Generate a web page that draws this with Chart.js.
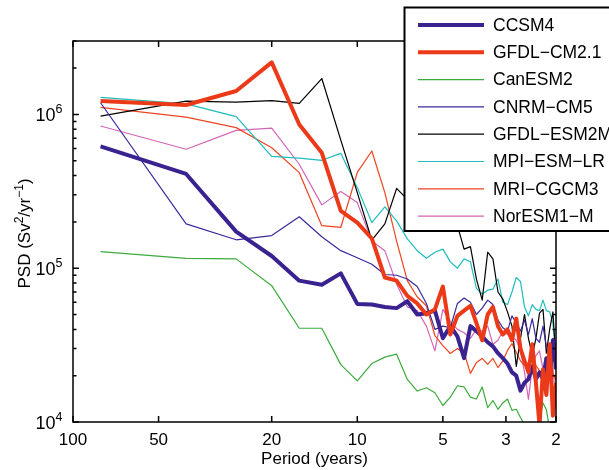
<!DOCTYPE html>
<html>
<head>
<meta charset="utf-8">
<script src="https://cdn.jsdelivr.net/npm/chart.js@4.4.1/dist/chart.umd.min.js"></script>
<style>
  html, body { margin: 0; padding: 0; background: #fff; }
  #wrap { width: 609px; height: 470px; }
</style>
</head>
<body>
<div id="wrap"><canvas id="psd" width="609" height="470"></canvas></div>
<script>
// Spectral periods (years), 80-yr record -> 80/k
const periods = [80, 40, 26.67, 20, 16, 13.33, 11.43, 10, 8.889, 8,
  7.273, 6.667, 6.154, 5.714, 5.333, 5, 4.706, 4.444, 4.211, 4,
  3.810, 3.636, 3.478, 3.333, 3.2, 3.077, 2.963, 2.857, 2.759, 2.667,
  2.581, 2.5, 2.424, 2.353, 2.286, 2.222, 2.162, 2.105, 2.051, 2];

const ccsm4 = [6.2e5, 4.1e5, 1.73e5, 1.2e5, 8.3e4, 7.8e4, 9.25e4, 5.86e4, 5.8e4, 5.6e4,
  5.5e4, 6.1e4, 5.0e4, 5.1e4, 5.3e4, 3.5e4, 4.2e4, 3.6e4, 2.6e4, 4.2e4,
  3.9e4, 3.6e4, 3.3e4, 3.1e4, 2.8e4, 2.6e4, 2.4e4, 2.1e4, 2.0e4, 1.6e4,
  1.8e4, 1.9e4, 2.3e4, 1.9e4, 2.1e4, 1.9e4, 2.6e4, 2.0e4, 3.4e4, 2.2e4];
const gfdlCm21 = [1.22e6, 1.15e6, 1.42e6, 2.18e6, 8.6e5, 5.63e5, 2.36e5, 1.98e5, 1.56e5, 8.7e4,
  8.3e4, 6.6e4, 5.9e4, 5.0e4, 5.4e4, 7.6e4, 3.7e4, 4.9e4, 5.3e4, 5.7e4,
  4.4e4, 3.4e4, 5.0e4, 5.6e4, 4.2e4, 3.7e4, 4.0e4, 3.4e4, 4.7e4, 3.0e4,
  2.5e4, 2.1e4, 3.2e4, 1.8e4, 9.5e3, 2.2e4, 1.5e4, 3.2e4, 1.1e4, 1.8e4];
const canEsm2 = [1.28e5, 1.16e5, 1.15e5, 7.7e4, 4.07e4, 4.07e4, 2.36e4, 1.85e4, 2.4e4, 2.64e4,
  2.76e4, 1.89e4, 1.59e4, 1.67e4, 1.55e4, 1.28e4, 1.45e4, 1.72e4, 1.69e4, 1.45e4,
  1.41e4, 1.69e4, 1.24e4, 1.38e4, 1.21e4, 1.33e4, 1.41e4, 1.19e4, 1.21e4, 1.07e4,
  9.6e3, 8.5e3, 8.0e3, 8.5e3, 1.05e4, 1.33e4, 1.2e4, 9.0e3, 8.0e3, 8.0e3];
const cnrmCm5 = [1.19e6, 1.94e5, 1.53e5, 1.63e5, 2.16e5, 1.6e5, 1.3e5, 1.17e5, 1.06e5, 9.1e4,
  9.0e4, 8.5e4, 7.6e4, 5.9e4, 4.0e4, 4.2e4, 4.1e4, 5.9e4, 6.4e4, 6.0e4,
  5.0e4, 5.5e4, 6.2e4, 5.8e4, 4.6e4, 4.1e4, 3.9e4, 4.9e4, 4.4e4, 3.9e4,
  4.6e4, 3.7e4, 4.7e4, 3.5e4, 3.3e4, 4.2e4, 3.1e4, 2.6e4, 3.5e4, 3.0e4];
const gfdlEsm2m = [9.75e5, 1.22e6, 1.2e6, 1.23e6, 1.18e6, 1.71e6, 6.8e5, 3.1e5, 1.52e5, 1.94e5,
  3.3e5, 2.8e5, 3.2e5, 3.5e5, 2.6e5, 3.0e5, 2.5e5, 1.9e5, 1.33e5, 1.38e5,
  8.5e4, 6.2e4, 1.27e5, 1.15e5, 7.0e4, 6.3e4, 5.2e4, 4.2e4, 2.3e4, 3.5e4,
  5.0e4, 3.5e4, 2.7e4, 3.5e4, 5.1e4, 5.4e4, 2.8e4, 4.0e4, 5.2e4, 2.5e4];
const mpiEsmLr = [1.29e6, 1.17e6, 9.66e5, 5.34e5, 5.19e5, 5.03e5, 5.58e5, 3.34e5, 1.98e5, 2.5e5,
  2.03e5, 1.55e5, 1.3e5, 1.16e5, 1.27e5, 1.33e5, 1.1e5, 1.0e5, 1.15e5, 1.1e5,
  7.4e4, 6.8e4, 7.2e4, 7.3e4, 8.5e4, 6.0e4, 5.8e4, 7.0e4, 8.7e4, 8.2e4,
  5.6e4, 4.9e4, 5.8e4, 5.4e4, 5.3e4, 6.2e4, 5.3e4, 5.2e4, 4.4e4, 2.7e4];
const mriCgcm3 = [1.11e6, 9.6e5, 8.2e5, 6.07e5, 4.18e5, 1.89e5, 1.84e5, 4.2e5, 5.78e5, 3.1e5,
  1.5e5, 8.3e4, 6.5e4, 5.7e4, 3.65e4, 3.14e4, 2.79e4, 3.0e4, 2.83e4, 2.07e4,
  2.44e4, 2.59e4, 2.37e4, 2.59e4, 2.26e4, 2.5e4, 2.92e4, 3.24e4, 2.83e4, 2.5e4,
  2.33e4, 2.44e4, 2.59e4, 2.33e4, 2.16e4, 2.01e4, 2.33e4, 2.59e4, 2.1e4, 1.86e4];
const norEsm1m = [8.4e5, 5.93e5, 7.87e5, 8.15e5, 4.74e5, 2.58e5, 3.15e5, 2.67e5, 1.5e5, 1.3e5,
  7.9e4, 5.6e4, 5.3e4, 4.2e4, 2.9e4, 5.4e4, 4.5e4, 4.0e4, 3.8e4, 3.5e4,
  4.0e4, 3.9e4, 4.2e4, 3.2e4, 3.4e4, 3.9e4, 3.7e4, 3.6e4, 3.4e4, 2.9e4,
  2.1e4, 1.4e4, 2.3e4, 2.7e4, 2.9e4, 2.2e4, 2.0e4, 2.6e4, 2.3e4, 1.3e4];

const modelNames = ['CCSM4', 'GFDL\u2212CM2.1', 'CanESM2', 'CNRM\u2212CM5',
  'GFDL\u2212ESM2M', 'MPI\u2212ESM\u2212LR', 'MRI\u2212CGCM3', 'NorESM1\u2212M'];
const modelSeries = [ccsm4, gfdlCm21, canEsm2, cnrmCm5, gfdlEsm2m, mpiEsmLr, mriCgcm3, norEsm1m];
const modelColors = ['#3a2290', '#ec3a18', '#3caa3c', '#3b2a9c', '#000000', '#1fbcbc', '#ee4420', '#d465b8'];
const modelWidths = [4, 4, 1.2, 1.2, 1.2, 1.2, 1.2, 1.2];

const xTicks = [100, 50, 20, 10, 5, 3, 2];
const yMajor = [1e4, 1e5, 1e6];

const FONT = '"Liberation Sans", Arial, Helvetica, sans-serif';

// frame, inward ticks, labels and the boxed legend
const decorations = {
  id: 'decorations',
  afterDraw(chart) {
    const { ctx, chartArea: a, scales } = chart;
    const xs = scales.x, ys = scales.y;
    ctx.save();
    ctx.strokeStyle = '#000';
    ctx.fillStyle = '#000';
    ctx.lineWidth = 1.5;
    ctx.strokeRect(a.left, a.top, a.right - a.left, a.bottom - a.top);

    // x ticks + labels
    ctx.font = '17px ' + FONT;
    ctx.textAlign = 'center';
    ctx.textBaseline = 'alphabetic';
    ctx.beginPath();
    xTicks.forEach(v => {
      const px = xs.getPixelForValue(v);
      ctx.moveTo(px, a.bottom); ctx.lineTo(px, a.bottom - 6);
      ctx.moveTo(px, a.top); ctx.lineTo(px, a.top + 6);
    });
    // y ticks (major + minor)
    for (let e = 4; e <= 6; e++) {
      for (let m = 1; m <= 9; m++) {
        const v = m * Math.pow(10, e);
        if (v > ys.max) break;
        const py = ys.getPixelForValue(v);
        const len = m === 1 ? 6 : 3.5;
        ctx.moveTo(a.left, py); ctx.lineTo(a.left + len, py);
        ctx.moveTo(a.right, py); ctx.lineTo(a.right - len, py);
      }
    }
    ctx.stroke();
    xTicks.forEach(v => ctx.fillText(String(v), xs.getPixelForValue(v), 445));

    // y labels 10^n
    yMajor.forEach(v => {
      const py = ys.getPixelForValue(v);
      const exp = String(Math.round(Math.log10(v)));
      ctx.textAlign = 'right';
      ctx.font = '18px ' + FONT;
      ctx.fillText('10', 55.5, py + 6.5);
      ctx.textAlign = 'left';
      ctx.font = '12.5px ' + FONT;
      ctx.fillText(exp, 55.5, py - 1.5);
    });

    // x title
    ctx.textAlign = 'center';
    ctx.font = '17px ' + FONT;
    ctx.fillText('Period (years)', (a.left + a.right) / 2, 463.5);

    // y title with superscripts
    const parts = [['PSD (Sv', 0], ['2', 1], ['/yr', 0], ['\u22121', 1], [')', 0]];
    const widthOf = p => { ctx.font = (p[1] ? '12px ' : '17px ') + FONT; return ctx.measureText(p[0]).width; };
    const total = parts.reduce((s, p) => s + widthOf(p), 0);
    ctx.translate(30, (a.top + a.bottom) / 2 + 2);
    ctx.rotate(-Math.PI / 2);
    ctx.textAlign = 'left';
    let cx = -total / 2;
    parts.forEach(p => {
      const w = widthOf(p);
      ctx.fillText(p[0], cx, p[1] ? -7 : 0);
      cx += w;
    });
    ctx.setTransform(1, 0, 0, 1, 0, 0);

    // legend box
    ctx.fillStyle = '#fff';
    ctx.fillRect(404.5, 7.5, 230, 223.5);
    ctx.lineWidth = 2;
    ctx.strokeRect(404.5, 7.5, 230, 223.5);
    ctx.font = '17.5px ' + FONT;
    ctx.textAlign = 'left';
    ctx.textBaseline = 'middle';
    chart.data.datasets.forEach((ds, i) => {
      const ly = 25 + i * 27.3;
      ctx.strokeStyle = ds.borderColor;
      ctx.lineWidth = ds.borderWidth;
      ctx.beginPath();
      ctx.moveTo(418, ly); ctx.lineTo(484, ly);
      ctx.stroke();
      ctx.fillStyle = '#000';
      ctx.fillText(ds.label, 493, ly + 1);
    });
    ctx.restore();
  }
};

const datasets = modelNames.map((name, i) => ({
  label: name,
  data: periods.map((p, j) => ({ x: p, y: modelSeries[i][j] })),
  borderColor: modelColors[i],
  borderWidth: modelWidths[i],
  borderJoinStyle: 'round',
  pointRadius: 0,
  tension: 0,
  fill: false,
  clip: 0,
  order: i === 1 ? 0 : (i === 0 ? 1 : 2)
}));

new Chart(document.getElementById('psd'), {
  type: 'line',
  data: { datasets },
  options: {
    responsive: false,
    animation: false,
    devicePixelRatio: 1,
    layout: { padding: { left: 73, right: 53, top: 41, bottom: 48 } },
    plugins: { legend: { display: false }, tooltip: { enabled: false } },
    scales: {
      x: { type: 'logarithmic', min: 2, max: 100, reverse: true, display: false },
      y: { type: 'logarithmic', min: 1e4, max: 3e6, display: false }
    }
  },
  plugins: [decorations]
});
</script>
</body>
</html>
